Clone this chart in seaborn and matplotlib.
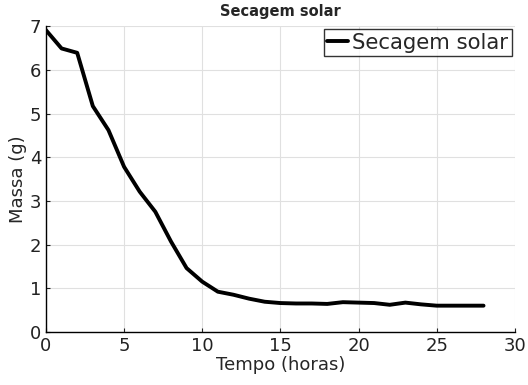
import matplotlib
matplotlib.use("Agg")
import matplotlib.pyplot as plt
import seaborn as sns
import pandas as pd

# Dados (massa em g a cada hora)
tempo = list(range(0, 29))
massa = [6.91, 6.49, 6.39, 5.17, 4.62, 3.78, 3.21, 2.75, 2.07, 1.46,
         1.15, 0.92, 0.85, 0.76, 0.69, 0.66, 0.65, 0.65, 0.64, 0.68,
         0.67, 0.66, 0.62, 0.67, 0.63, 0.60, 0.60, 0.60, 0.60]
serie = "Secagem solar"

df = pd.DataFrame({"Tempo": tempo, "Massa": massa, "Serie": serie})

sns.set_style("whitegrid")
plt.rcParams["font.family"] = ["DejaVu Sans"]

fig, ax = plt.subplots(figsize=(5.28, 3.85), dpi=100)
fig.subplots_adjust(left=0.087, right=0.975, bottom=0.138, top=0.932)

sns.lineplot(data=df, x="Tempo", y="Massa", hue="Serie", palette=["black"],
             linewidth=2.8, ax=ax)

ax.set_xlim(0, 30)
ax.set_ylim(0, 7)
ax.set_xticks(range(0, 31, 5))
ax.set_yticks(range(0, 8))
ax.grid(True, color="#e0e0e0", linewidth=0.8)
sns.despine(ax=ax)
for s in ["left", "bottom"]:
    ax.spines[s].set_color("black")
    ax.spines[s].set_linewidth(1.0)
ax.tick_params(direction="in", length=3, labelsize=13, colors="#222222",
               left=True, bottom=True)

ax.set_xlabel("Tempo (horas)", fontsize=13, labelpad=1)
ax.set_ylabel("Massa (g)", fontsize=13, labelpad=2)
ax.set_title("Secagem solar", fontsize=10.5, fontweight="bold", pad=7)

leg = ax.legend(loc="upper right", fontsize=15.3, frameon=True, fancybox=False,
                handlelength=1.0, handletextpad=0.2, borderpad=0.15,
                borderaxespad=0.15)
leg.get_frame().set_edgecolor("black")
leg.get_frame().set_linewidth(1.0)

plt.savefig("out.png", dpi=100)
